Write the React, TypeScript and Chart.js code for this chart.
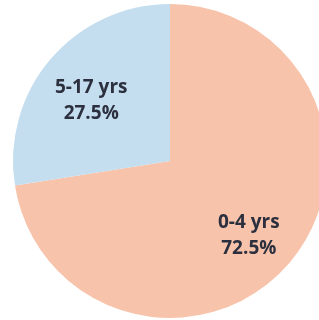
import React, { useEffect, useRef } from "react";
import { Chart, registerables } from "chart.js";

Chart.register(...registerables);

const categories = ["0-4 yrs", "5-17 yrs"];
const values = [72.5, 27.5];
const valueLabels = ["72.5%", "27.5%"];
const colors = ["#F8C3AB", "#C4DEEF"];

const labelPlugin = {
  id: "sliceLabels",
  afterDatasetsDraw(chart: any) {
    const ctx = chart.ctx;
    const meta = chart.getDatasetMeta(0);
    ctx.save();
    ctx.fillStyle = "#2b2f3e";
    ctx.font = "bold 19px 'Open Sans', sans-serif";
    ctx.textAlign = "center";
    ctx.textBaseline = "middle";
    meta.data.forEach((arc: any, i: number) => {
      const p = arc.getProps(["x", "y", "startAngle", "endAngle", "outerRadius"], true);
      const mid = (p.startAngle + p.endAngle) / 2;
      const r = p.outerRadius * 0.66;
      const cx = p.x + Math.cos(mid) * r;
      const cy = p.y + Math.sin(mid) * r + 7;
      ctx.fillText(categories[i], cx, cy - 13);
      ctx.fillText(valueLabels[i], cx, cy + 13);
    });
    ctx.restore();
  },
};

export default function App() {
  const ref = useRef<HTMLCanvasElement | null>(null);
  useEffect(() => {
    document.body.style.margin = "0";
    const chart = new Chart(ref.current as HTMLCanvasElement, {
      type: "pie",
      data: {
        labels: categories,
        datasets: [
          {
            data: values,
            backgroundColor: colors,
            borderWidth: 0,
          },
        ],
      },
      options: {
        responsive: false,
        animation: false,
        layout: { padding: { top: 4, bottom: 2, left: 0, right: 0 } },
        plugins: {
          legend: { display: false },
          tooltip: { enabled: false },
        },
      },
      plugins: [labelPlugin],
    });
    return () => chart.destroy();
  }, []);
  return (
    <div style={{ position: "fixed", left: 0, top: 0, width: 319, height: 320, overflow: "hidden", background: "#fff" }}>
      <canvas ref={ref} width={340} height={320} style={{ width: 340, height: 320, display: "block" }} />
    </div>
  );
}
